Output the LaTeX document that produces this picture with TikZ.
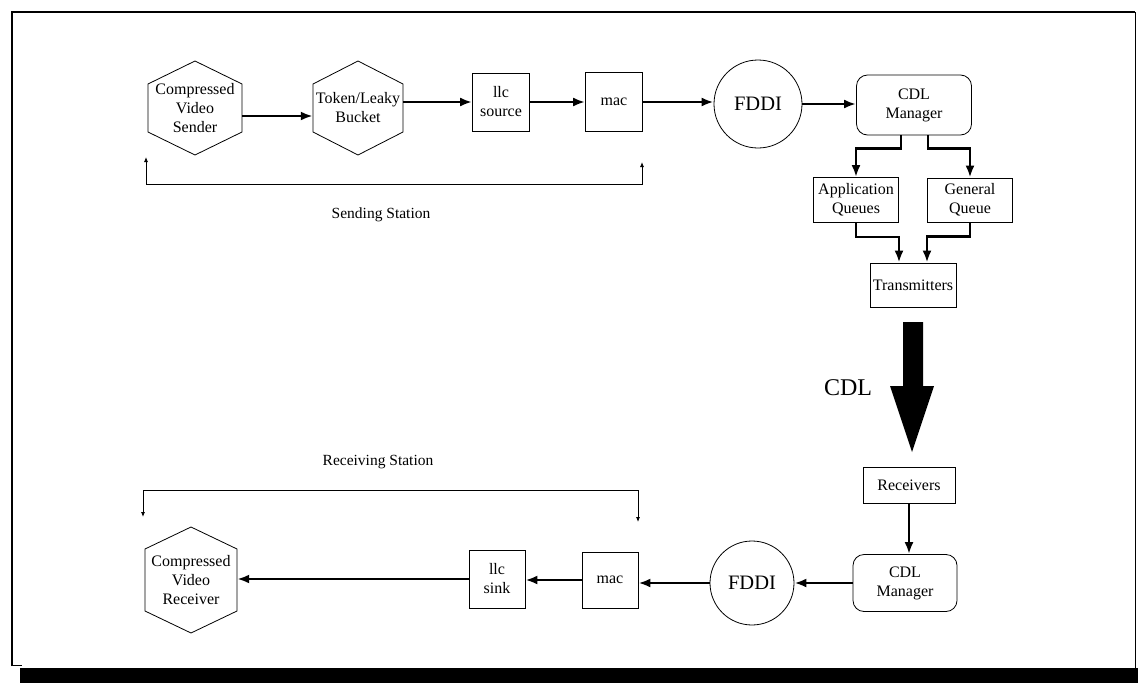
\documentclass[tikz,border=0pt]{standalone}
\usepackage{fontspec}
\setmainfont{Liberation Serif}
\usetikzlibrary{arrows.meta,calc}
\newcommand\drawhex[4]{%
  \draw[outl] ($(#1)+(0,-#3)$) -- ($(#1)+(#2,-#4)$) -- ($(#1)+(#2,#4)$) --
   ($(#1)+(0,#3)$) -- ($(#1)+(-#2,#4)$) -- ($(#1)+(-#2,-#4)$) -- cycle;}
\begin{document}
\begin{tikzpicture}[x=1pt,y=-1pt,
  every node/.style={font=\fontsize{16}{19}\selectfont, align=center, inner sep=2pt},
  outl/.style={line width=0.8pt},
  box/.style={draw, line width=0.8pt, minimum width=#1},
  box/.default=57,
  rbox/.style={draw, line width=0.8pt, rounded corners=11pt},
  ring/.style={draw, circle, line width=0.8pt, font=\fontsize{20.5}{24}\selectfont},
  hexnode/.style={minimum width=#1, minimum height=40, inner sep=0pt},
  flow/.style={-{Latex[length=12,width=9]}, line width=2.6pt},
  tarrow/.style={{Latex[length=5,width=4]}-{Latex[length=5,width=4]}, line width=0.8pt},
  label/.style={font=\fontsize{15.5}{19}\selectfont}
]
\useasboundingbox (0,0) rectangle (1138,683);
% frame
\draw[line width=2.4pt] (12,666) -- (12,12) -- (1135,12);
\draw[line width=1pt] (1135,12) -- (1135,669);
\draw[line width=1pt] (12,665) -- (22,665);
\fill (20,668) rectangle (1138,683);

% sending side
\node[hexnode=94] (snd) at (195,108) {Compressed\\Video\\Sender};
\drawhex{snd}{47}{47}{24}
\node[hexnode=90] (tok) at (358,108) {Token/Leaky\\Bucket};
\drawhex{tok}{45}{47}{24}
\node[box, minimum height=58] (llcs) at (501,102) {llc\\source};
\node[box, minimum height=59] (mac1) at (614,102) {mac};
\node[ring, minimum size=88] (fddi1) at (758,104) {FDDI};
\node[rbox, minimum width=115, minimum height=60] (cdl1) at (914,105) {CDL\\Manager};
\node[box=85, minimum height=45] (appq) at (856,200) {Application\\Queues};
\node[box=85, minimum height=44] (genq) at (970,200) {General\\Queue};
\node[box=86, minimum height=44] (trans) at (913,285) {Transmitters};

\draw[flow] ([yshift=-8]snd.east) -- ([yshift=-8]tok.west);
\draw[flow] (tok.east |- llcs.west) -- (llcs.west);
\draw[flow] (llcs.east) -- (mac1.west);
\draw[flow] (mac1.east) -- (mac1.east -| fddi1.west);
\draw[flow] (fddi1.east) -- (fddi1.east -| cdl1.west);
\draw[flow] ([xshift=-13]cdl1.south) -- ++(0,13) -| (appq.north);
\draw[flow] ([xshift=14]cdl1.south) -- ++(0,13) -| (genq.north);
\draw[flow] (appq.south) -- ++(0,14) -| ([xshift=-14]trans.north);
\draw[flow] (genq.south) -- ++(0,14) -| ([xshift=14]trans.north);

% sending station bracket
\coordinate (sl) at (146,157);
\coordinate (sr) at (642,162);
\draw[tarrow] (sl) -- (146,184) -- (642,184) -- (sr);
\node[label] (sendlbl) at (381,215) {Sending Station};

% CDL big arrow
\fill (903,322) -- (923,322) -- (923,386) -- (934,386) -- (912,452) -- (890,386) -- (903,386) -- cycle;
\node[font=\fontsize{24}{28}\selectfont] (cdllbl) at (848,388) {CDL};

% receiving side
\node[box=92, minimum height=36] (recv) at (909,485) {Receivers};
\node[rbox, minimum width=104, minimum height=57] (cdl2) at (905,583) {CDL\\Manager};
\node[ring, minimum size=84] (fddi2) at (752,583) {FDDI};
\node[box=56, minimum height=56] (mac2) at (610,580) {mac};
\node[box=56, minimum height=58] (llck) at (497,579) {llc\\sink};
\node[hexnode=92] (rcv) at (191,580) {Compressed\\Video\\Receiver};
\drawhex{rcv}{46}{53}{31}

\draw[flow] (recv.south) -- (recv.south |- cdl2.north);
\draw[flow] (cdl2.west) -- (fddi2.east);
\draw[flow] (fddi2.west) -- (fddi2.west -| mac2.east);
\draw[flow] (mac2.west) -- (mac2.west -| llck.east);
\draw[flow] (llck.west) -- (llck.west -| rcv.east);

% receiving station bracket
\coordinate (rl) at (143,517);
\coordinate (rr) at (638,522);
\draw[tarrow] (rl) -- (143,490) -- (638,490) -- (rr);
\node[label] (recvlbl) at (378,462) {Receiving Station};
\end{tikzpicture}
\end{document}
